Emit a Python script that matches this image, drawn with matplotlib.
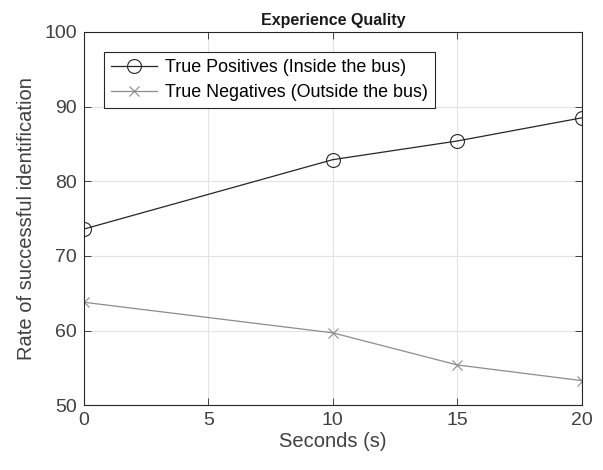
import matplotlib
matplotlib.use("Agg")
import matplotlib.pyplot as plt

plt.rcParams['font.family'] = ['Liberation Sans', 'DejaVu Sans']

seconds = [0, 10, 15, 20]
true_pos = [73.6, 82.9, 85.4, 88.5]
true_neg = [63.8, 59.7, 55.4, 53.3]
x_ticks = [0, 5, 10, 15, 20]
y_ticks = [50, 60, 70, 80, 90, 100]

fig = plt.figure(figsize=(6.03, 4.70), dpi=100)
ax = fig.add_axes([0.139, 0.1377, 0.826, 0.7943])

ax.plot(seconds, true_pos, color='#262626', linewidth=0.9, marker='o',
        markersize=10, markerfacecolor='none', markeredgewidth=0.8,
        label='True Positives (Inside the bus)')
ax.plot(seconds, true_neg, color='#8c8c8c', linewidth=0.9, marker='x',
        markersize=7, markeredgewidth=0.8,
        label='True Negatives (Outside the bus)')

ax.set_xlim(0, 20)
ax.set_ylim(50, 100)
ax.set_xticks(x_ticks)
ax.set_yticks(y_ticks)
ax.grid(True, color='#e3e3e3', linewidth=0.8)
ax.set_axisbelow(True)
ax.tick_params(direction='in', top=True, right=True, labelsize=14,
               colors='#262626', labelcolor='#404040', length=5, width=0.6, pad=5)
for s in ax.spines.values():
    s.set_color('#262626')
    s.set_linewidth(0.8)

ax.set_xlabel('Seconds (s)', fontsize=14.5, color='#404040', labelpad=2)
ax.set_ylabel('Rate of successful identification', fontsize=14.5, color='#404040', labelpad=6)
ax.set_title('Experience Quality', fontsize=11.5, fontweight='bold', color='#1a1a1a', pad=5)

leg = ax.legend(loc='upper left', bbox_to_anchor=(0.04, 0.947), borderaxespad=0,
                fontsize=12.9, fancybox=False, framealpha=1, edgecolor='#262626',
                handlelength=2.6, handletextpad=0.4, borderpad=0.4, labelspacing=0.45)
leg.get_frame().set_linewidth(0.8)

fig.savefig('out.png', dpi=100)
